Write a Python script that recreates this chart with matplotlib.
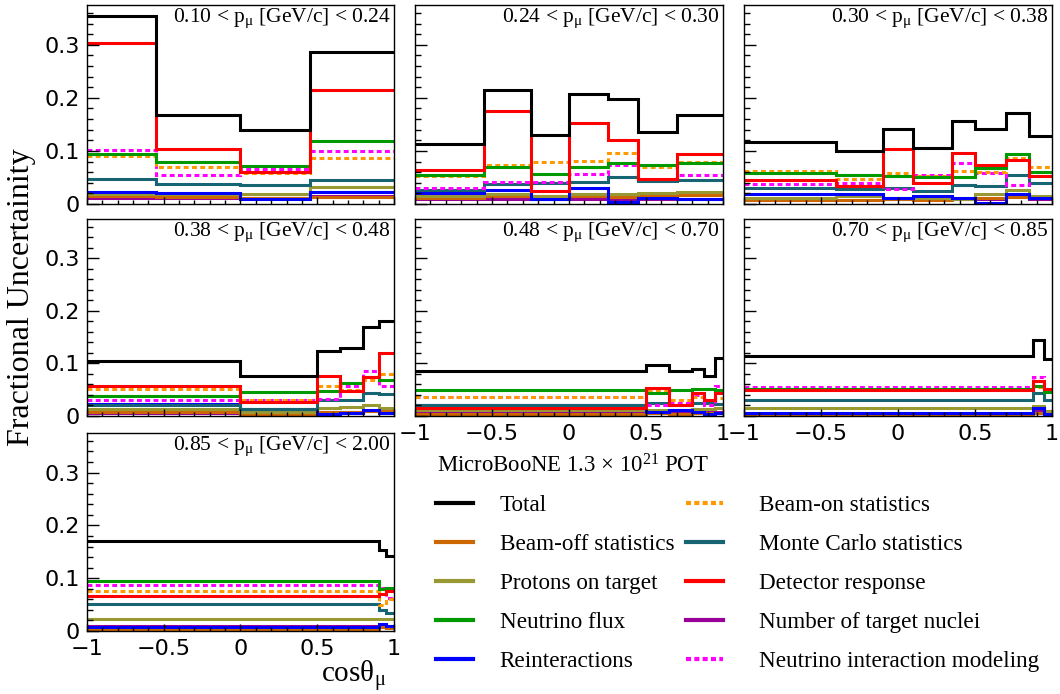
import matplotlib
matplotlib.use('Agg')
import matplotlib.pyplot as plt
import numpy as np
from matplotlib import ticker
from matplotlib.lines import Line2D

plt.rcParams['font.family'] = ['Liberation Serif', 'DejaVu Serif']
plt.rcParams['mathtext.fontset'] = 'custom'
plt.rcParams['mathtext.rm'] = 'Liberation Serif'
plt.rcParams['mathtext.it'] = 'Liberation Serif:italic'

# bins of p_mu (one panel each) and the cos(theta_mu) bin edges
p_bins = ['0.10', '0.24', '0.30', '0.38', '0.48', '0.70', '0.85', '2.00']
edges = [
    [-1, -0.55, 0, 0.45, 1],
    [-1, -0.55, -0.25, 0, 0.25, 0.45, 0.7, 1],
    [-1, -0.4, -0.1, 0.1, 0.35, 0.5, 0.7, 0.85, 1],
    [-1, 0, 0.5, 0.65, 0.8, 0.9, 1],
    [-1, 0.5, 0.65, 0.8, 0.875, 0.95, 1],
    [-1, 0.875, 0.95, 1],
    [-1, 0.9, 0.95, 1],
]

# fractional uncertainties, one list per panel
total = [
    [0.354, 0.167, 0.139, 0.286],
    [0.113, 0.214, 0.130, 0.207, 0.197, 0.136, 0.167],
    [0.117, 0.100, 0.141, 0.106, 0.157, 0.141, 0.172, 0.128],
    [0.105, 0.077, 0.123, 0.130, 0.169, 0.181],
    [0.086, 0.097, 0.086, 0.089, 0.077, 0.111],
    [0.115, 0.145, 0.109],
    [0.170, 0.153, 0.142],
]
beam_on = [
    [0.091, 0.069, 0.059, 0.086],
    [0.053, 0.073, 0.079, 0.081, 0.096, 0.070, 0.080],
    [0.062, 0.048, 0.059, 0.052, 0.062, 0.060, 0.086, 0.069],
    [0.052, 0.030, 0.057, 0.049, 0.069, 0.079],
    [0.036, 0.050, 0.031, 0.036, 0.030, 0.035],
    [0.050, 0.055, 0.050],
    [0.076, 0.049, 0.060],
]
beam_off = [
    [0.015, 0.014, 0.012, 0.014],
    [0.012, 0.015, 0.014, 0.015, 0.014, 0.016, 0.017],
    [0.008, 0.008, 0.009, 0.008, 0.010, 0.012, 0.014, 0.011],
    [0.008, 0.004, 0.007, 0.008, 0.010, 0.009],
    [0.004, 0.006, 0.004, 0.005, 0.005, 0.006],
    [0.002, 0.006, 0.004],
    [0.004, 0.007, 0.005],
]
mc_stat = [
    [0.048, 0.037, 0.035, 0.046],
    [0.026, 0.037, 0.039, 0.042, 0.050, 0.043, 0.045],
    [0.031, 0.029, 0.031, 0.025, 0.035, 0.034, 0.055, 0.039],
    [0.020, 0.014, 0.031, 0.031, 0.044, 0.042],
    [0.020, 0.025, 0.020, 0.025, 0.025, 0.022],
    [0.031, 0.043, 0.030],
    [0.051, 0.040, 0.035],
]
pot = [
    [0.019, 0.019, 0.0195, 0.032],
    [0.015, 0.0195, 0.016, 0.018, 0.0195, 0.021, 0.023],
    [0.012, 0.015, 0.012, 0.012, 0.009, 0.0195, 0.026, 0.016],
    [0.0125, 0.008, 0.016, 0.017, 0.021, 0.016],
    [0.012, 0.012, 0.011, 0.013, 0.014, 0.016],
    [0.0145, 0.019, 0.010],
    [0.022, 0.022, 0.022],
]
detector = [
    [0.303, 0.103, 0.061, 0.214],
    [0.064, 0.175, 0.025, 0.153, 0.120, 0.047, 0.094],
    [0.045, 0.033, 0.103, 0.039, 0.096, 0.073, 0.083, 0.053],
    [0.058, 0.027, 0.077, 0.048, 0.075, 0.119],
    [0.0145, 0.053, 0.020, 0.044, 0.031, 0.044],
    [0.050, 0.066, 0.052],
    [0.066, 0.070, 0.075],
]
flux = [
    [0.094, 0.079, 0.071, 0.118],
    [0.055, 0.070, 0.056, 0.070, 0.077, 0.073, 0.077],
    [0.059, 0.054, 0.053, 0.050, 0.050, 0.067, 0.094, 0.061],
    [0.039, 0.046, 0.048, 0.063, 0.075, 0.068],
    [0.050, 0.044, 0.050, 0.052, 0.052, 0.049],
    [0.052, 0.058, 0.046],
    [0.095, 0.080, 0.082],
]
nuclei = [
    [0.011, 0.011, 0.011, 0.015],
    [0.009, 0.009, 0.009, 0.009, 0.009, 0.010, 0.010],
    [0.008, 0.008, 0.010, 0.010, 0.010, 0.010, 0.015, 0.010],
    [0.006, 0.005, 0.007, 0.008, 0.010, 0.009],
    [0.007, 0.007, 0.007, 0.008, 0.008, 0.008],
    [0.004, 0.011, 0.008],
    [0.010, 0.010, 0.010],
]
reint = [
    [0.022, 0.021, 0.010, 0.022],
    [0.020, 0.027, 0.009, 0.030, 0.003, 0.012, 0.009],
    [0.0195, 0.0195, 0.012, 0.015, 0.011, 0.0025, 0.0195, 0.011],
    [0.022, 0.0125, 0.003, 0.006, 0.011, 0.005],
    [0.020, 0.0075, 0.011, 0.0075, 0.003, 0.006],
    [0.005, 0.0145, 0.003],
    [0.008, 0.0125, 0.0095],
]
xsec = [
    [0.102, 0.055, 0.066, 0.100],
    [0.031, 0.042, 0.042, 0.056, 0.073, 0.047, 0.055],
    [0.038, 0.039, 0.028, 0.055, 0.078, 0.059, 0.036, 0.053],
    [0.030, 0.030, 0.033, 0.057, 0.086, 0.058],
    [0.036, 0.021, 0.025, 0.040, 0.021, 0.058],
    [0.055, 0.075, 0.052],
    [0.087, 0.082, 0.063],
]

# (data, label, colour, dashed) in drawing order
sources = [
    (nuclei, 'Number of target nuclei', '#990099', False),
    (beam_off, 'Beam-off statistics', '#cc6600', False),
    (pot, 'Protons on target', '#999933', False),
    (reint, 'Reinteractions', '#0000ff', False),
    (mc_stat, 'Monte Carlo statistics', '#176472', False),
    (xsec, 'Neutrino interaction modeling', '#ff00ff', True),
    (beam_on, 'Beam-on statistics', '#ff9900', True),
    (flux, 'Neutrino flux', '#009900', False),
    (detector, 'Detector response', '#ff0000', False),
    (total, 'Total', '#000000', False),
]

fig = plt.figure(figsize=(10.6, 6.94), dpi=100)

W, H = 1060., 694.
cols = [(87, 394), (415, 723), (744, 1052)]
rows = [(5, 204), (219, 416), (433, 631)]

fmt = ticker.FuncFormatter(lambda v, p: ('%g' % v).replace('-', '\u2212'))
lw = 2.2
for i in range(7):
    r, c = divmod(i, 3)
    x0, x1 = cols[c]
    y0, y1 = rows[r]
    ax = fig.add_axes([x0 / W, 1 - y1 / H, (x1 - x0) / W, (y1 - y0) / H])
    for data, lab, col, dashed in sources:
        ls = (0, (1.6, 1.1)) if dashed else '-'
        ax.stairs(data[i], edges[i], baseline=None, color=col, lw=lw, ls=ls)
    ax.set_xlim(-1, 1)
    ax.set_ylim(0, 0.375)
    ax.xaxis.set_major_locator(ticker.MultipleLocator(0.5))
    ax.xaxis.set_minor_locator(ticker.MultipleLocator(0.1))
    ax.yaxis.set_major_locator(ticker.MultipleLocator(0.1))
    ax.yaxis.set_minor_locator(ticker.MultipleLocator(0.02))
    ax.xaxis.set_major_formatter(fmt)
    ax.yaxis.set_major_formatter(fmt)
    ax.tick_params(which='both', direction='in', top=False, right=False,
                   labelsize=16, width=1.0)
    ax.tick_params(axis='y', which='major', length=8.5, pad=5)
    ax.tick_params(axis='y', which='minor', length=4.5)
    ax.tick_params(axis='x', which='major', length=5, pad=5.8)
    ax.tick_params(axis='x', which='minor', length=3)
    for lbl in ax.get_xticklabels() + ax.get_yticklabels():
        lbl.set_family('DejaVu Sans')
    if c != 0:
        ax.tick_params(labelleft=False)
    if i not in (4, 5, 6):
        ax.tick_params(labelbottom=False)
    for s in ax.spines.values():
        s.set_linewidth(1.0)
    ax.text(0.99, 0.99, '%s < p$_{\\mathrm{μ}}$ [GeV/c] < %s' % (p_bins[i], p_bins[i + 1]),
            transform=ax.transAxes, ha='right', va='top', fontsize=15.5)

fig.text(22 / W, 1 - 297 / H, 'Fractional Uncertainity', rotation=90,
         ha='center', va='center', fontsize=23)
fig.text(386 / W, 1 - 683 / H, 'cosθ$_{\\mathrm{μ}}$', ha='right', va='baseline', fontsize=21)
fig.text(437 / W, 1 - 466 / H, 'MicroBooNE 1.3 × 10$^{21}$ POT', ha='left', va='center',
         fontsize=16.4)

# legend in two columns
style = {s[1]: s for s in sources}
left_col = ['Total', 'Beam-off statistics', 'Protons on target', 'Neutrino flux', 'Reinteractions']
right_col = ['Beam-on statistics', 'Monte Carlo statistics', 'Detector response',
             'Number of target nuclei', 'Neutrino interaction modeling']
for names, xl, pad in ((left_col, 436, 1.15), (right_col, 686, 1.55)):
    handles = []
    for n in names:
        _, lab, col, dashed = style[n]
        handles.append(Line2D([], [], color=col, lw=3.0,
                              ls=(0, (1.2, 0.8)) if dashed else '-'))
    fig.legend(handles, names, loc='upper left', bbox_to_anchor=(xl / W, 1 - 495 / H),
               frameon=False, fontsize=16.7, handlelength=1.6, handletextpad=pad,
               labelspacing=0.76, borderpad=0, borderaxespad=0)

fig.savefig('out.png', dpi=100)
